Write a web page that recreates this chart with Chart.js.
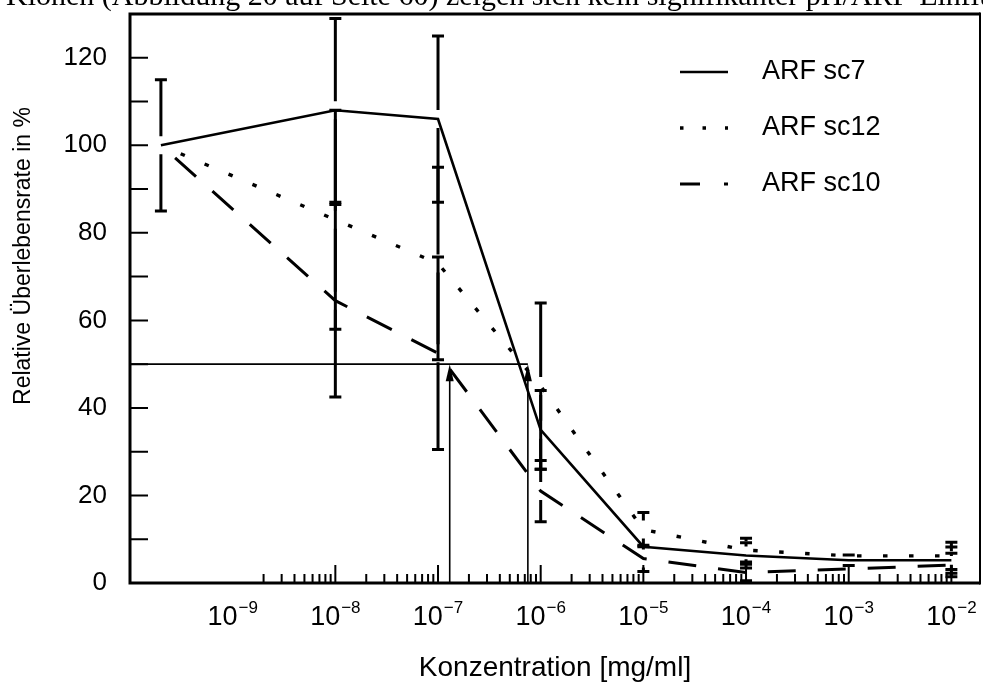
<!DOCTYPE html>
<html><head><meta charset="utf-8">
<script src="https://cdn.jsdelivr.net/npm/chart.js@4.4.0/dist/chart.umd.min.js"></script>
<style>html,body{margin:0;padding:0;background:#fff;overflow:hidden}</style>
</head><body>
<canvas id="c" width="983" height="682"></canvas>
<script>
// ---- data ----
const concentrations = [2e-10, 1e-8, 1e-7, 1e-6, 1e-5, 1e-4, 1e-3, 1e-2];
const seriesNames = ['ARF sc7', 'ARF sc12', 'ARF sc10'];
const sc7  = [100, 108, 106, 35, 8.3, 6.3, 5.2, 5.2];
const sc12 = [100, 83, 73, 45, 12.2, 7.5, 6.2, 6.2];
const sc10 = [100, 64.5, 52.5, 21, 5.6, 2.4, 3.2, 4.1];
const errSc7  = [15, 21, 19, 9, 0, 2.9, 1.2, 3];
const errSc12 = [0, 25, 22, 19, 3.9, 2.7, 0, 3.1];
const errSc10 = [0, 22, 22, 7, 3, 1.9, 0, 2.7];
const decadeExponents = [-9, -8, -7, -6, -5, -4, -3, -2];
const majorTickExponents = [-8, -7, -6, -5, -4, -3, -2];
const minorMultipliers = [2, 3, 4, 5, 6, 7, 8, 9];
const yTickLabels = [0, 20, 40, 60, 80, 100, 120];
const ic50Level = 50;
const ic50Concentrations = [1.3e-7, 7.5e-7];
const xTitle = 'Konzentration [mg/ml]';
const yTitle = 'Relative Überlebensrate in %';
const pageText = 'Klonen (Abbildung 20 auf Seite 60) zeigen sich kein signifikanter pH/ARF-Einfluss';

const FONT = "'Liberation Sans', Arial, Helvetica, sans-serif";
Chart.defaults.font.family = FONT;
Chart.defaults.color = '#000';

const toPts = arr => concentrations.map((c, i) => ({x: c, y: arr[i]}));

const legendDash = [[], [3.5, 19], [20, 24]];

const decorPlugin = {
  id: 'decor',
  beforeDraw(chart) {
    const ctx = chart.ctx;
    ctx.save();
    ctx.fillStyle = '#fff';
    ctx.fillRect(0, 0, chart.width, chart.height);
    ctx.fillStyle = '#000';
    ctx.font = "30px 'Liberation Serif', 'Times New Roman', serif";
    ctx.textBaseline = 'alphabetic';
    ctx.textAlign = 'left';
    ctx.fillText(pageText, 6, 5);
    ctx.restore();
  },
  afterDatasetsDraw(chart) {
    const {ctx, chartArea: a, scales: {x, y}} = chart;
    ctx.save();
    // error bars
    ctx.strokeStyle = '#000';
    ctx.lineCap = 'butt';
    chart.data.datasets.forEach(ds => {
      const errs = ds.errors;
      ds.data.forEach((pt, j) => {
        const e = errs[j];
        if (!e) return;
        const px = x.getPixelForValue(pt.x);
        const py = y.getPixelForValue(pt.y);
        const top = y.getPixelForValue(pt.y + e);
        const bot = y.getPixelForValue(Math.max(0, pt.y - e));
        const gap = 9;
        ctx.lineWidth = 3;
        ctx.setLineDash([]);
        ctx.beginPath();
        if (py - gap > top) { ctx.moveTo(px, top); ctx.lineTo(px, py - gap); }
        if (py + gap < bot) { ctx.moveTo(px, py + gap); ctx.lineTo(px, bot); }
        ctx.moveTo(px - 6, top); ctx.lineTo(px + 6, top);
        ctx.moveTo(px - 6, bot); ctx.lineTo(px + 6, bot);
        ctx.stroke();
      });
    });
    // IC50 guide lines and arrows
    const yl = y.getPixelForValue(ic50Level);
    const xr = x.getPixelForValue(ic50Concentrations[ic50Concentrations.length - 1]);
    ctx.lineWidth = 1.6;
    ctx.beginPath();
    ctx.moveTo(a.left, yl); ctx.lineTo(xr, yl);
    ic50Concentrations.forEach(c => {
      const px = x.getPixelForValue(c);
      ctx.moveTo(px, a.bottom); ctx.lineTo(px, yl + 12);
    });
    ctx.stroke();
    ctx.fillStyle = '#000';
    ic50Concentrations.forEach(c => {
      const px = x.getPixelForValue(c);
      ctx.beginPath();
      ctx.moveTo(px, yl);
      ctx.lineTo(px - 4, yl + 17);
      ctx.lineTo(px + 4, yl + 17);
      ctx.closePath();
      ctx.fill();
    });
    // inward tick marks
    ctx.lineWidth = 2;
    ctx.beginPath();
    for (let v = 10; v <= 120; v += 10) {
      const py = y.getPixelForValue(v);
      ctx.moveTo(a.left, py); ctx.lineTo(a.left + 18, py);
    }
    majorTickExponents.forEach(ex => {
      const px = x.getPixelForValue(Math.pow(10, ex));
      ctx.moveTo(px, a.bottom); ctx.lineTo(px, a.bottom - 18);
    });
    decadeExponents.slice(0, -1).forEach(ex => {
      minorMultipliers.forEach(m => {
        const px = x.getPixelForValue(m * Math.pow(10, ex));
        ctx.moveTo(px, a.bottom); ctx.lineTo(px, a.bottom - 9);
      });
    });
    ctx.stroke();
    // frame
    ctx.lineWidth = 3;
    ctx.beginPath();
    ctx.moveTo(a.right, a.top); ctx.lineTo(a.left, a.top); ctx.lineTo(a.left, a.bottom); ctx.lineTo(a.right, a.bottom);
    ctx.stroke();
    ctx.lineWidth = 2;
    ctx.beginPath();
    ctx.moveTo(a.right, a.top - 1.5); ctx.lineTo(a.right, a.bottom + 1.5);
    ctx.stroke();
    // x tick labels with superscript exponents
    ctx.textBaseline = 'alphabetic';
    ctx.textAlign = 'left';
    decadeExponents.forEach(ex => {
      const px = x.getPixelForValue(Math.pow(10, ex));
      const base = '10', sup = '\u2212' + Math.abs(ex);
      ctx.font = '27px ' + FONT;
      const w1 = ctx.measureText(base).width;
      ctx.font = '17px ' + FONT;
      const w2 = ctx.measureText(sup).width;
      const x0 = px - (w1 + 1 + w2) / 2;
      ctx.font = '27px ' + FONT;
      ctx.fillText(base, x0, 625);
      ctx.font = '17px ' + FONT;
      ctx.fillText(sup, x0 + w1 + 1, 613);
    });
    // y axis title
    ctx.save();
    ctx.translate(24, 256);
    ctx.rotate(-Math.PI / 2);
    ctx.font = '23px ' + FONT;
    ctx.textAlign = 'center';
    ctx.textBaseline = 'middle';
    ctx.fillText(yTitle, 0, 0);
    ctx.restore();
    // legend
    chart.data.datasets.forEach((ds, i) => {
      const ry = 72 + i * 56;
      ctx.lineWidth = ds.borderWidth;
      ctx.setLineDash(legendDash[i]);
      ctx.beginPath();
      ctx.moveTo(680, ry); ctx.lineTo(728, ry);
      ctx.stroke();
      ctx.setLineDash([]);
      ctx.font = '27px ' + FONT;
      ctx.textBaseline = 'middle';
      ctx.fillText(ds.label, 762, ry);
    });
    ctx.restore();
  }
};

new Chart(document.getElementById('c'), {
  type: 'line',
  data: {
    datasets: [
      {label: seriesNames[0], data: toPts(sc7), errors: errSc7, borderColor: '#000', borderWidth: 2.6, borderDash: [], pointRadius: 0, tension: 0, fill: false},
      {label: seriesNames[1], data: toPts(sc12), errors: errSc12, borderColor: '#000', borderWidth: 3.4, borderDash: [4.5, 21.5], borderDashOffset: 4.5, pointRadius: 0, tension: 0, fill: false},
      {label: seriesNames[2], data: toPts(sc10), errors: errSc10, borderColor: '#000', borderWidth: 3, borderDash: [28, 22], borderDashOffset: 31, pointRadius: 0, tension: 0, fill: false}
    ]
  },
  options: {
    responsive: false,
    devicePixelRatio: 1,
    animation: false,
    layout: {padding: {left: 0, top: 14, right: 3, bottom: 0}},
    plugins: {legend: {display: false}, tooltip: {enabled: false}},
    scales: {
      x: {
        type: 'logarithmic', min: 1e-10, max: 0.019,
        afterBuildTicks: s => { s.ticks = decadeExponents.map(e => ({value: Math.pow(10, e)})); },
        afterFit: s => { s.height = 99; s.paddingLeft = 0; s.paddingRight = 0; s.paddingTop = 0; s.paddingBottom = 0; },
        ticks: {display: false},
        grid: {display: false, drawTicks: false},
        border: {display: false},
        title: {display: true, text: xTitle, font: {size: 28, lineHeight: 1}, padding: 0, color: '#000'}
      },
      y: {
        type: 'linear', min: 0, max: 130,
        afterBuildTicks: s => { s.ticks = yTickLabels.map(v => ({value: v})); },
        afterFit: s => { s.width = 130; s.paddingTop = 0; s.paddingBottom = 0; s.paddingLeft = 0; s.paddingRight = 0; },
        ticks: {font: {size: 26}, padding: 23, color: '#000'},
        grid: {display: false, drawTicks: false},
        border: {display: false}
      }
    }
  },
  plugins: [decorPlugin]
});
</script>
</body></html>
